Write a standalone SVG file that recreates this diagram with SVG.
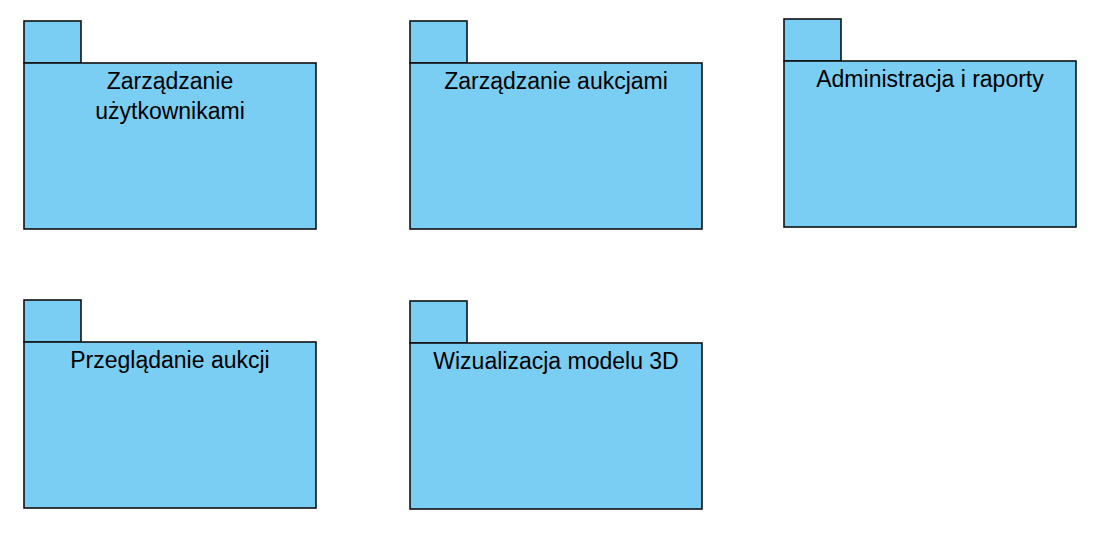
<svg xmlns="http://www.w3.org/2000/svg" width="1113" height="535" viewBox="0 0 1113 535">
<style>
.pk{fill:#7acef4;stroke:#111;stroke-width:1.6}
.lb{font-family:"Liberation Sans",Arial,sans-serif;font-size:23px;fill:#000;text-anchor:middle}
</style>
<rect width="1113" height="535" fill="#fff"/>
<g id="pkg-uzytkownicy">
<rect class="pk" x="24" y="21" width="57" height="42"/>
<rect class="pk" x="24" y="63" width="292" height="166"/>
<text class="lb" x="170" y="89">Zarządzanie</text>
<text class="lb" x="170" y="119">użytkownikami</text>
</g>
<g id="pkg-aukcje">
<rect class="pk" x="410" y="21" width="57" height="42"/>
<rect class="pk" x="410" y="63" width="292" height="166"/>
<text class="lb" x="556" y="89">Zarządzanie aukcjami</text>
</g>
<g id="pkg-admin">
<rect class="pk" x="784" y="19" width="57" height="42"/>
<rect class="pk" x="784" y="61" width="292" height="166"/>
<text class="lb" x="930" y="87">Administracja i raporty</text>
</g>
<g id="pkg-przegladanie">
<rect class="pk" x="24" y="300" width="57" height="42"/>
<rect class="pk" x="24" y="342" width="292" height="166"/>
<text class="lb" x="170" y="368">Przeglądanie aukcji</text>
</g>
<g id="pkg-wizualizacja">
<rect class="pk" x="410" y="301" width="57" height="42"/>
<rect class="pk" x="410" y="343" width="292" height="166"/>
<text class="lb" x="556" y="369">Wizualizacja modelu 3D</text>
</g>
<g id="connectors"></g>
</svg>
